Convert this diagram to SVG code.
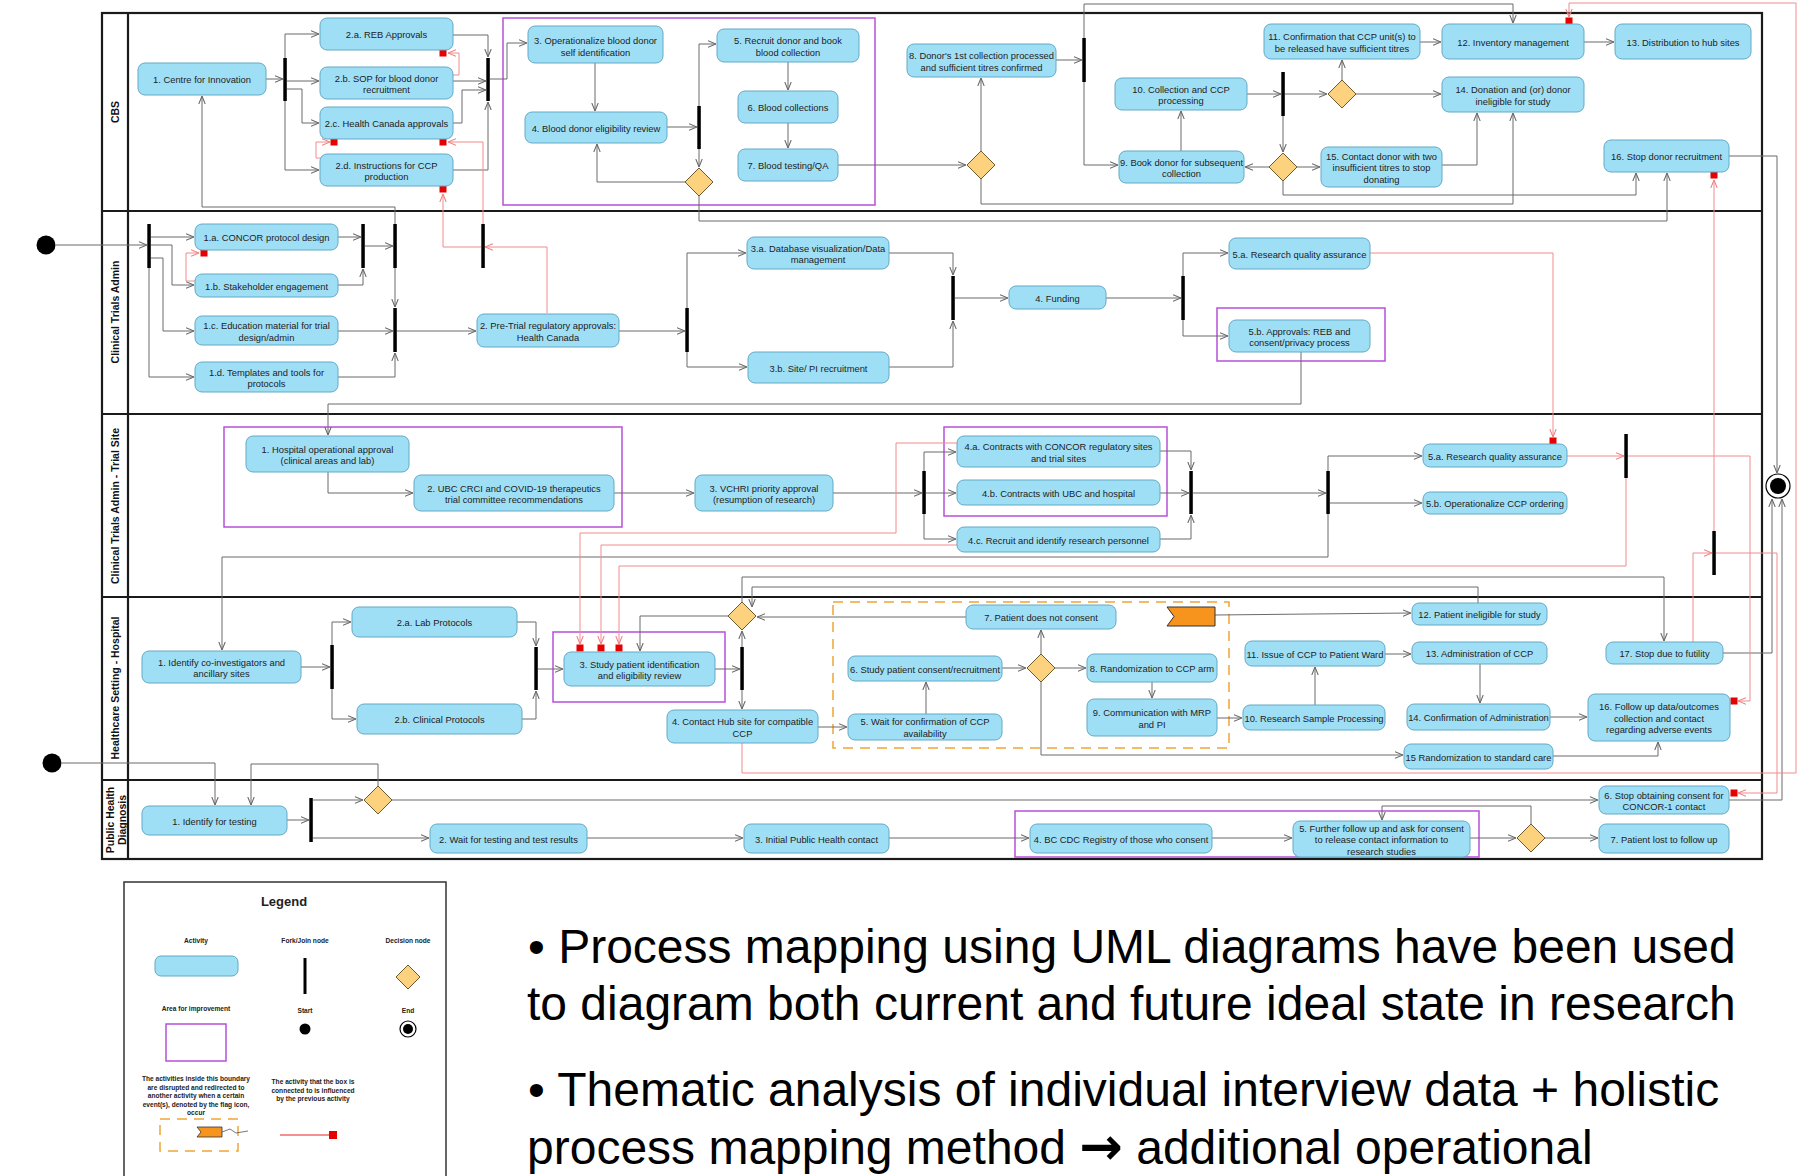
<svg xmlns="http://www.w3.org/2000/svg" width="1798" height="1176" viewBox="0 0 1798 1176">
<defs>
  <marker id="ag" viewBox="0 0 10 10" refX="10" refY="5" markerWidth="8" markerHeight="8" markerUnits="userSpaceOnUse" orient="auto">
    <path d="M0,1 L10,5 L0,9" fill="none" stroke="#666" stroke-width="1.3"/>
  </marker>
  <marker id="ar" viewBox="0 0 10 10" refX="10" refY="5" markerWidth="8" markerHeight="8" markerUnits="userSpaceOnUse" orient="auto">
    <path d="M0,1 L10,5 L0,9" fill="none" stroke="#ee7f7f" stroke-width="1.3"/>
  </marker>
</defs>
<style>
  .act { fill: #9fdff6; stroke: #62a9c6; stroke-width: 1; }
  .t { font-family: "Liberation Sans", Arial, sans-serif; font-size: 9.4px; fill: #222; text-anchor: middle; }
  .lane-t { font-family: "Liberation Sans", Arial, sans-serif; font-size: 10.5px; font-weight: bold; fill: #111; text-anchor: middle; }
  .bar { fill: #000; }
  .dia { fill: #fcd27e; stroke: #6e5a2e; stroke-width: 1; }
  .c { fill: none; stroke: #6b6b6b; stroke-width: 1; marker-end: url(#ag); }
  .r { fill: none; stroke: #f08c8c; stroke-width: 1; marker-end: url(#ar); }
  .sq { fill: #e60000; }
  .imp { fill: none; stroke: #b650d8; stroke-width: 1.5; }
  .dash { fill: none; stroke: #f0a437; stroke-width: 1.5; stroke-dasharray: 10 7; }
  .lane { stroke: #1a1a1a; stroke-width: 2.2; fill: none; }
  .lg { font-family: "Liberation Sans", Arial, sans-serif; font-size: 6.6px; font-weight: bold; fill: #222; text-anchor: middle; }
  .big { font-family: "Liberation Sans", Arial, sans-serif; font-size: 48px; fill: #000; }
</style>
<rect width="1798" height="1176" fill="#fff"/>

<!-- swimlane frame -->
<g id="lanes">
  <rect class="lane" x="102" y="13" width="1660" height="846"/>
  <line class="lane" x1="128" y1="13" x2="128" y2="859"/>
  <line class="lane" x1="102" y1="211" x2="1762" y2="211"/>
  <line class="lane" x1="102" y1="414" x2="1762" y2="414"/>
  <line class="lane" x1="102" y1="597" x2="1762" y2="597"/>
  <line class="lane" x1="102" y1="780" x2="1762" y2="780"/>
  <text class="lane-t" transform="rotate(-90 119 112)" x="119" y="112">CBS</text>
  <text class="lane-t" transform="rotate(-90 119 312)" x="119" y="312">Clinical Trials Admin</text>
  <text class="lane-t" transform="rotate(-90 119 506)" x="119" y="506">Clinical Trials Admin - Trial Site</text>
  <text class="lane-t" transform="rotate(-90 119 688)" x="119" y="688">Healthcare Setting - Hospital</text>
  <text class="lane-t" transform="rotate(-90 114 820)" x="114" y="820">Public Health</text>
  <text class="lane-t" transform="rotate(-90 126 820)" x="126" y="820">Diagnosis</text>
</g>

<!-- areas for improvement and interruptible region -->
<g id="regions">
  <rect class="imp" x="503" y="18" width="372" height="187"/>
  <rect class="imp" x="1217" y="308" width="168" height="53"/>
  <rect class="imp" x="224" y="427" width="398" height="100"/>
  <rect class="imp" x="944" y="427" width="223" height="89"/>
  <rect class="imp" x="553" y="632" width="172" height="70"/>
  <rect class="imp" x="1015" y="811" width="464" height="46"/>
  <rect class="dash" x="833" y="602" width="396" height="146"/>
</g>

<!-- connectors -->
<g id="connectors">
  <!-- CBS -->
  <path class="c" d="M266,79 H283"/>
  <path class="c" d="M285,58 V34 H319"/>
  <path class="c" d="M287,81 H319"/>
  <path class="c" d="M287,89 H302 V123 H319"/>
  <path class="c" d="M285,101 V170 H319"/>
  <path class="c" d="M453,35 H488 V57"/>
  <path class="c" d="M453,81 H486"/>
  <path class="c" d="M453,123 H462 V90 H486"/>
  <path class="c" d="M453,170 H488 V102"/>
  <path class="c" d="M490,79 H507 V43 H527"/>
  <path class="c" d="M595,63 V111"/>
  <path class="c" d="M667,127 H697"/>
  <path class="c" d="M699,106 V44 H716"/>
  <path class="c" d="M699,149 V167"/>
  <path class="c" d="M685,182 H597 V144"/>
  <path class="c" d="M699,196 V221 H1667 V173"/>
  <path class="c" d="M788,62 V90"/>
  <path class="c" d="M788,123 V148"/>
  <path class="c" d="M838,165 H966"/>
  <path class="c" d="M981,151 V78"/>
  <path class="c" d="M981,179 V204 H1513 V113"/>
  <path class="c" d="M1056,60 H1082"/>
  <path class="c" d="M1084,82 V165 H1118"/>
  <path class="c" d="M1084,38 V4 H1513 V23"/>
  <path class="c" d="M1181,151 V111"/>
  <path class="c" d="M1247,94 H1281"/>
  <path class="c" d="M1285,94 H1327"/>
  <path class="c" d="M1342,80 V60"/>
  <path class="c" d="M1356,94 H1441"/>
  <path class="c" d="M1283,116 V152"/>
  <path class="c" d="M1269,167 H1245"/>
  <path class="c" d="M1297,167 H1320"/>
  <path class="c" d="M1283,181 V195 H1636 V173"/>
  <path class="c" d="M1442,165 H1477 V113"/>
  <path class="c" d="M1420,42 H1441"/>
  <path class="c" d="M1584,42 H1614"/>
  <path class="c" d="M1729,156 H1777 V473"/>
  <!-- Clinical Trials Admin -->
  <path class="c" d="M56,245 H147"/>
  <path class="c" d="M151,237 H194"/>
  <path class="c" d="M151,245 H172 V285 H194"/>
  <path class="c" d="M151,258 H163 V331 H194"/>
  <path class="c" d="M149,268 V377 H194"/>
  <path class="c" d="M338,237 H361"/>
  <path class="c" d="M338,285 H363 V269"/>
  <path class="c" d="M365,246 H393"/>
  <path class="c" d="M395,224 V207 H202 V96"/>
  <path class="c" d="M395,268 V307"/>
  <path class="c" d="M338,331 H393"/>
  <path class="c" d="M338,377 H395 V353"/>
  <path class="c" d="M397,331 H476"/>
  <path class="c" d="M619,331 H685"/>
  <path class="c" d="M687,308 V253 H746"/>
  <path class="c" d="M687,352 V367 H747"/>
  <path class="c" d="M889,253 H953 V275"/>
  <path class="c" d="M889,367 H953 V321"/>
  <path class="c" d="M955,298 H1008"/>
  <path class="c" d="M1106,298 H1181"/>
  <path class="c" d="M1183,276 V253 H1228"/>
  <path class="c" d="M1183,320 V336 H1228"/>
  <path class="c" d="M1301,352 V404 H328 V435"/>
  <!-- Trial Site -->
  <path class="c" d="M328,472 V493 H413"/>
  <path class="c" d="M614,493 H694"/>
  <path class="c" d="M833,493 H922"/>
  <path class="c" d="M924,471 V452 H956"/>
  <path class="c" d="M926,493 H956"/>
  <path class="c" d="M924,514 V539 H956"/>
  <path class="c" d="M1160,451 H1191 V470"/>
  <path class="c" d="M1160,493 H1189"/>
  <path class="c" d="M1160,539 H1191 V515"/>
  <path class="c" d="M1193,493 H1326"/>
  <path class="c" d="M1328,471 V456 H1422"/>
  <path class="c" d="M1330,503 H1422"/>
  <path class="c" d="M1328,514 V557 H222 V650"/>
  <!-- Hospital -->
  <path class="c" d="M301,667 H330"/>
  <path class="c" d="M332,645 V622 H351"/>
  <path class="c" d="M332,689 V719 H356"/>
  <path class="c" d="M517,622 H536 V646"/>
  <path class="c" d="M522,719 H536 V691"/>
  <path class="c" d="M538,669 H563"/>
  <path class="c" d="M715,669 H740"/>
  <path class="c" d="M742,647 V631"/>
  <path class="c" d="M742,690 V709"/>
  <path class="c" d="M728,616 H640 V651"/>
  <path class="c" d="M742,602 V577 H1664 V641"/>
  <path class="c" d="M1478,603 V587 H752 V607"/>
  <path class="c" d="M966,617 H757"/>
  <path class="c" d="M818,727 H847"/>
  <path class="c" d="M926,714 V682"/>
  <path class="c" d="M1002,668 H1026"/>
  <path class="c" d="M1041,654 V630"/>
  <path class="c" d="M1055,668 H1086"/>
  <path class="c" d="M1041,682 V755 H1403"/>
  <path class="c" d="M1152,682 V698"/>
  <path class="c" d="M1217,718 H1242"/>
  <path class="c" d="M1315,705 V667"/>
  <path class="c" d="M1385,654 H1411"/>
  <path class="c" d="M1480,664 V703"/>
  <path class="c" d="M1550,717 H1587"/>
  <path class="c" d="M1553,756 H1658 V742"/>
  <path class="c" d="M1215,615 L1411,613"/>
  <path class="c" d="M1723,653 H1772 V499"/>
  <!-- Public Health -->
  <path class="c" d="M62,763 H215 V805"/>
  <path class="c" d="M378,786 V764 H251 V805"/>
  <path class="c" d="M287,820 H309"/>
  <path class="c" d="M313,800 H363"/>
  <path class="c" d="M313,838 H429"/>
  <path class="c" d="M392,800 H1598"/>
  <path class="c" d="M587,838 H743"/>
  <path class="c" d="M889,838 H1029"/>
  <path class="c" d="M1212,838 H1292"/>
  <path class="c" d="M1470,838 H1516"/>
  <path class="c" d="M1545,838 H1598"/>
  <path class="c" d="M1531,824 V806 H1382 V820"/>
  <path class="c" d="M1729,800 H1782 V499"/>
  <!-- influence links -->
  <path class="r" d="M453,75 H459 V53 H448"/>
  <path class="r" d="M322,158 H316 V142 H330"/>
  <path class="r" d="M547,313 V247 H485"/>
  <path class="r" d="M481,247 H443 V194"/>
  <path class="r" d="M483,224 V142 H448"/>
  <path class="r" d="M196,281 H186 V253 H199"/>
  <path class="r" d="M957,443 H896 V533 H580 V644"/>
  <path class="r" d="M957,545 H601 V644"/>
  <path class="r" d="M1626,478 V566 H619 V644"/>
  <path class="r" d="M1567,456 H1624"/>
  <path class="r" d="M1628,456 H1750 V701 H1738"/>
  <path class="r" d="M1714,531 V180"/>
  <path class="r" d="M1693,642 V553 H1712"/>
  <path class="r" d="M1716,553 H1777 V793 H1738"/>
  <path class="r" d="M742,743 V773 H1796 V3 H1569 V17"/>
  <path class="r" d="M1370,253 H1553 V437"/>
</g>

<!-- influence markers -->
<g id="markers">
  <rect class="sq" x="439.5" y="49.5" width="7" height="7"/>
  <rect class="sq" x="330.5" y="138.5" width="7" height="7"/>
  <rect class="sq" x="439.5" y="138.5" width="7" height="7"/>
  <rect class="sq" x="439.5" y="185.5" width="7" height="7"/>
  <rect class="sq" x="200.5" y="249.5" width="7" height="7"/>
  <rect class="sq" x="576.5" y="644.5" width="7" height="7"/>
  <rect class="sq" x="597.5" y="644.5" width="7" height="7"/>
  <rect class="sq" x="615.5" y="644.5" width="7" height="7"/>
  <rect class="sq" x="1549.5" y="437.5" width="7" height="7"/>
  <rect class="sq" x="1565.5" y="17.5" width="7" height="7"/>
  <rect class="sq" x="1710.5" y="171.5" width="7" height="7"/>
  <rect class="sq" x="1730.5" y="697.5" width="7" height="7"/>
  <rect class="sq" x="1730.5" y="789.5" width="7" height="7"/>
</g>

<!-- fork / join bars -->
<g id="bars">
  <rect class="bar" x="283.3" y="58" width="3.5" height="43"/>
  <rect class="bar" x="486.3" y="58" width="3.5" height="43"/>
  <rect class="bar" x="697.3" y="106" width="3.5" height="43"/>
  <rect class="bar" x="1082.3" y="38" width="3.5" height="44"/>
  <rect class="bar" x="1281.3" y="72" width="3.5" height="44"/>
  <rect class="bar" x="147.3" y="224" width="3.5" height="44"/>
  <rect class="bar" x="361.3" y="224" width="3.5" height="44"/>
  <rect class="bar" x="393.3" y="224" width="3.5" height="44"/>
  <rect class="bar" x="481.3" y="224" width="3.5" height="44"/>
  <rect class="bar" x="393.3" y="308" width="3.5" height="44"/>
  <rect class="bar" x="685.3" y="308" width="3.5" height="44"/>
  <rect class="bar" x="951.3" y="276" width="3.5" height="44"/>
  <rect class="bar" x="1181.3" y="276" width="3.5" height="44"/>
  <rect class="bar" x="922.3" y="471" width="3.5" height="43"/>
  <rect class="bar" x="1189.3" y="471" width="3.5" height="43"/>
  <rect class="bar" x="1326.3" y="471" width="3.5" height="43"/>
  <rect class="bar" x="1624.3" y="434" width="3.5" height="44"/>
  <rect class="bar" x="1712.3" y="531" width="3.5" height="44"/>
  <rect class="bar" x="330.3" y="645" width="3.5" height="44"/>
  <rect class="bar" x="534.3" y="647" width="3.5" height="43"/>
  <rect class="bar" x="740.3" y="647" width="3.5" height="43"/>
  <rect class="bar" x="309.3" y="798" width="3.5" height="44"/>
</g>

<!-- decision nodes -->
<g id="decisions">
  <path id="d-cbs-1" class="dia" d="M699,168 L713,182 L699,196 L685,182 Z"/>
  <path id="d-cbs-2" class="dia" d="M981,151 L995,165 L981,179 L967,165 Z"/>
  <path id="d-cbs-3" class="dia" d="M1342,80 L1356,94 L1342,108 L1328,94 Z"/>
  <path id="d-cbs-4" class="dia" d="M1283,153 L1297,167 L1283,181 L1269,167 Z"/>
  <path id="d-hs-1" class="dia" d="M742,602 L756,616 L742,630 L728,616 Z"/>
  <path id="d-hs-2" class="dia" d="M1041,654 L1055,668 L1041,682 L1027,668 Z"/>
  <path id="d-ph-1" class="dia" d="M378,786 L392,800 L378,814 L364,800 Z"/>
  <path id="d-ph-2" class="dia" d="M1531,824 L1545,838 L1531,852 L1517,838 Z"/>
</g>

<!-- start / end -->
<g id="start-1"><circle cx="46" cy="245" r="9.5" fill="#000"/></g>
<g id="start-2"><circle cx="52" cy="763" r="9.5" fill="#000"/></g>
<g id="end"><circle cx="1778" cy="486" r="12" fill="#fff" stroke="#000" stroke-width="1.2"/><circle cx="1778" cy="486" r="8" fill="#000"/></g>

<!-- flag event -->
<g id="flag"><path d="M1167,607 H1215 V626 H1167 L1174,616.5 Z" fill="#f7941d" stroke="#333" stroke-width="1"/></g>

<!-- CBS activities -->
<g id="cbs-1"><rect class="act" x="138" y="63" width="128" height="32" rx="7"/><text class="t" x="202" y="83.2">1. Centre for Innovation</text></g>
<g id="cbs-2a"><rect class="act" x="320" y="18" width="133" height="32" rx="7"/><text class="t" x="386.5" y="38.2">2.a. REB Approvals</text></g>
<g id="cbs-2b"><rect class="act" x="320" y="67" width="133" height="32" rx="7"/><text class="t" x="386.5" y="81.5">2.b. SOP for blood donor</text><text class="t" x="386.5" y="93.2">recruitment</text></g>
<g id="cbs-2c"><rect class="act" x="320" y="107" width="133" height="32" rx="7"/><text class="t" x="386.5" y="127.2">2.c. Health Canada approvals</text></g>
<g id="cbs-2d"><rect class="act" x="320" y="154" width="133" height="32" rx="7"/><text class="t" x="386.5" y="168.5">2.d. Instructions for CCP</text><text class="t" x="386.5" y="180.2">production</text></g>
<g id="cbs-3"><rect class="act" x="528" y="26" width="135" height="37" rx="7"/><text class="t" x="595.5" y="44">3. Operationalize blood donor</text><text class="t" x="595.5" y="55.6">self identification</text></g>
<g id="cbs-4"><rect class="act" x="525" y="112" width="142" height="31" rx="7"/><text class="t" x="596" y="131.7">4. Blood donor eligibility review</text></g>
<g id="cbs-5"><rect class="act" x="717" y="29" width="142" height="33" rx="7"/><text class="t" x="788" y="44">5. Recruit donor and book</text><text class="t" x="788" y="55.7">blood collection</text></g>
<g id="cbs-6"><rect class="act" x="738" y="91" width="100" height="32" rx="7"/><text class="t" x="788" y="111.2">6. Blood collections</text></g>
<g id="cbs-7"><rect class="act" x="738" y="149" width="100" height="32" rx="7"/><text class="t" x="788" y="169.2">7. Blood testing/QA</text></g>
<g id="cbs-8"><rect class="act" x="907" y="44" width="149" height="33" rx="7"/><text class="t" x="981.5" y="59">8. Donor's 1st collection processed</text><text class="t" x="981.5" y="70.7">and sufficient titres confirmed</text></g>
<g id="cbs-9"><rect class="act" x="1119" y="151" width="125" height="32" rx="7"/><text class="t" x="1181.5" y="165.5">9. Book donor for subsequent</text><text class="t" x="1181.5" y="177.2">collection</text></g>
<g id="cbs-10"><rect class="act" x="1115" y="78" width="132" height="32" rx="7"/><text class="t" x="1181" y="92.5">10. Collection and CCP</text><text class="t" x="1181" y="104.2">processing</text></g>
<g id="cbs-11"><rect class="act" x="1264" y="24" width="156" height="35" rx="7"/><text class="t" x="1342" y="40">11. Confirmation that CCP unit(s) to</text><text class="t" x="1342" y="51.7">be released have sufficient titres</text></g>
<g id="cbs-12"><rect class="act" x="1442" y="24" width="142" height="35" rx="7"/><text class="t" x="1513" y="45.7">12. Inventory management</text></g>
<g id="cbs-13"><rect class="act" x="1615" y="24" width="136" height="35" rx="7"/><text class="t" x="1683" y="45.7">13. Distribution to hub sites</text></g>
<g id="cbs-14"><rect class="act" x="1442" y="77" width="142" height="35" rx="7"/><text class="t" x="1513" y="93">14. Donation and (or) donor</text><text class="t" x="1513" y="104.7">ineligible for study</text></g>
<g id="cbs-15"><rect class="act" x="1321" y="147" width="121" height="40" rx="7"/><text class="t" x="1381.5" y="159.5">15. Contact donor with two</text><text class="t" x="1381.5" y="171.2">insufficient titres to stop</text><text class="t" x="1381.5" y="182.9">donating</text></g>
<g id="cbs-16"><rect class="act" x="1604" y="140" width="125" height="32" rx="7"/><text class="t" x="1666.5" y="160.2">16. Stop donor recruitment</text></g>

<!-- Clinical Trials Admin activities -->
<g id="cta-1a"><rect class="act" x="195" y="224" width="143" height="26" rx="7"/><text class="t" x="266.5" y="241.2">1.a. CONCOR protocol design</text></g>
<g id="cta-1b"><rect class="act" x="195" y="274" width="143" height="23" rx="7"/><text class="t" x="266.5" y="289.7">1.b. Stakeholder engagement</text></g>
<g id="cta-1c"><rect class="act" x="195" y="316" width="143" height="29" rx="7"/><text class="t" x="266.5" y="329">1.c. Education material for trial</text><text class="t" x="266.5" y="340.7">design/admin</text></g>
<g id="cta-1d"><rect class="act" x="195" y="362" width="143" height="30" rx="7"/><text class="t" x="266.5" y="375.5">1.d. Templates and tools for</text><text class="t" x="266.5" y="387.2">protocols</text></g>
<g id="cta-2"><rect class="act" x="477" y="314" width="142" height="33" rx="7"/><text class="t" x="548" y="329">2. Pre-Trial regulatory approvals:</text><text class="t" x="548" y="340.7">Health Canada</text></g>
<g id="cta-3a"><rect class="act" x="747" y="237" width="142" height="32" rx="7"/><text class="t" x="818" y="251.5">3.a. Database visualization/Data</text><text class="t" x="818" y="263.2">management</text></g>
<g id="cta-3b"><rect class="act" x="748" y="352" width="141" height="31" rx="7"/><text class="t" x="818.5" y="371.7">3.b. Site/ PI recruitment</text></g>
<g id="cta-4"><rect class="act" x="1009" y="286" width="97" height="23" rx="7"/><text class="t" x="1057.5" y="301.7">4. Funding</text></g>
<g id="cta-5a"><rect class="act" x="1229" y="238" width="141" height="31" rx="7"/><text class="t" x="1299.5" y="257.7">5.a. Research quality assurance</text></g>
<g id="cta-5b"><rect class="act" x="1229" y="320" width="141" height="32" rx="7"/><text class="t" x="1299.5" y="334.5">5.b. Approvals: REB and</text><text class="t" x="1299.5" y="346.2">consent/privacy process</text></g>

<!-- Trial Site activities -->
<g id="ts-1"><rect class="act" x="246" y="436" width="163" height="36" rx="7"/><text class="t" x="327.5" y="452.5">1. Hospital operational approval</text><text class="t" x="327.5" y="464.2">(clinical areas and lab)</text></g>
<g id="ts-2"><rect class="act" x="414" y="475" width="200" height="36" rx="7"/><text class="t" x="514" y="491.5">2. UBC CRCI and COVID-19 therapeutics</text><text class="t" x="514" y="503.2">trial committee recommendations</text></g>
<g id="ts-3"><rect class="act" x="695" y="475" width="138" height="36" rx="7"/><text class="t" x="764" y="491.5">3. VCHRI priority approval</text><text class="t" x="764" y="503.2">(resumption of research)</text></g>
<g id="ts-4a"><rect class="act" x="957" y="436" width="203" height="31" rx="7"/><text class="t" x="1058.5" y="450">4.a. Contracts with CONCOR regulatory sites</text><text class="t" x="1058.5" y="461.7">and trial sites</text></g>
<g id="ts-4b"><rect class="act" x="957" y="480" width="203" height="25" rx="7"/><text class="t" x="1058.5" y="496.7">4.b. Contracts with UBC and hospital</text></g>
<g id="ts-4c"><rect class="act" x="957" y="527" width="203" height="25" rx="7"/><text class="t" x="1058.5" y="543.7">4.c. Recruit and identify research personnel</text></g>
<g id="ts-5a"><rect class="act" x="1423" y="444" width="144" height="23" rx="7"/><text class="t" x="1495" y="459.7">5.a. Research quality assurance</text></g>
<g id="ts-5b"><rect class="act" x="1423" y="492" width="144" height="22" rx="7"/><text class="t" x="1495" y="507.2">5.b. Operationalize CCP ordering</text></g>

<!-- Hospital activities -->
<g id="hs-1"><rect class="act" x="142" y="651" width="159" height="32" rx="7"/><text class="t" x="221.5" y="665.5">1. Identify co-investigators and</text><text class="t" x="221.5" y="677.2">ancillary sites</text></g>
<g id="hs-2a"><rect class="act" x="352" y="607" width="165" height="30" rx="7"/><text class="t" x="434.5" y="626.2">2.a. Lab Protocols</text></g>
<g id="hs-2b"><rect class="act" x="357" y="704" width="165" height="30" rx="7"/><text class="t" x="439.5" y="723.2">2.b. Clinical Protocols</text></g>
<g id="hs-3"><rect class="act" x="564" y="652" width="151" height="34" rx="7"/><text class="t" x="639.5" y="667.5">3. Study patient identification</text><text class="t" x="639.5" y="679.2">and eligibility review</text></g>
<g id="hs-4"><rect class="act" x="667" y="710" width="151" height="33" rx="7"/><text class="t" x="742.5" y="725">4. Contact Hub site for compatible</text><text class="t" x="742.5" y="736.7">CCP</text></g>
<g id="hs-5"><rect class="act" x="848" y="714" width="154" height="26" rx="7"/><text class="t" x="925" y="725">5. Wait for confirmation of CCP</text><text class="t" x="925" y="736.6">availability</text></g>
<g id="hs-6"><rect class="act" x="848" y="656" width="154" height="25" rx="7"/><text class="t" x="925" y="672.7">6. Study patient consent/recruitment</text></g>
<g id="hs-7"><rect class="act" x="966" y="605" width="150" height="24" rx="7"/><text class="t" x="1041" y="621.2">7. Patient does not consent</text></g>
<g id="hs-8"><rect class="act" x="1087" y="654" width="130" height="28" rx="7"/><text class="t" x="1152" y="672.2">8. Randomization to CCP arm</text></g>
<g id="hs-9"><rect class="act" x="1087" y="699" width="130" height="37" rx="7"/><text class="t" x="1152" y="716">9. Communication with MRP</text><text class="t" x="1152" y="727.7">and PI</text></g>
<g id="hs-10"><rect class="act" x="1243" y="705" width="142" height="25" rx="7"/><text class="t" x="1314" y="721.7">10. Research Sample Processing</text></g>
<g id="hs-11"><rect class="act" x="1245" y="641" width="140" height="25" rx="7"/><text class="t" x="1315" y="657.7">11. Issue of CCP to Patient Ward</text></g>
<g id="hs-12"><rect class="act" x="1412" y="603" width="135" height="22" rx="7"/><text class="t" x="1479.5" y="618.2">12. Patient ineligible for study</text></g>
<g id="hs-13"><rect class="act" x="1412" y="642" width="135" height="22" rx="7"/><text class="t" x="1479.5" y="657.2">13. Administration of CCP</text></g>
<g id="hs-14"><rect class="act" x="1407" y="704" width="143" height="26" rx="7"/><text class="t" x="1478.5" y="721.2">14. Confirmation of Administration</text></g>
<g id="hs-15"><rect class="act" x="1404" y="744" width="149" height="25" rx="7"/><text class="t" x="1478.5" y="760.7">15 Randomization to standard care</text></g>
<g id="hs-16"><rect class="act" x="1588" y="694" width="142" height="47" rx="7"/><text class="t" x="1659" y="710">16. Follow up data/outcomes</text><text class="t" x="1659" y="721.7">collection and contact</text><text class="t" x="1659" y="733.4">regarding adverse events</text></g>
<g id="hs-17"><rect class="act" x="1606" y="642" width="117" height="22" rx="7"/><text class="t" x="1664.5" y="657.2">17. Stop due to futility</text></g>

<!-- Public Health activities -->
<g id="ph-1"><rect class="act" x="142" y="806" width="145" height="29" rx="7"/><text class="t" x="214.5" y="824.7">1. Identify for testing</text></g>
<g id="ph-2"><rect class="act" x="430" y="824" width="157" height="29" rx="7"/><text class="t" x="508.5" y="842.7">2. Wait for testing and test results</text></g>
<g id="ph-3"><rect class="act" x="744" y="824" width="145" height="29" rx="7"/><text class="t" x="816.5" y="842.7">3. Initial Public Health contact</text></g>
<g id="ph-4"><rect class="act" x="1030" y="824" width="182" height="29" rx="7"/><text class="t" x="1121" y="842.7">4. BC CDC Registry of those who consent</text></g>
<g id="ph-5"><rect class="act" x="1293" y="821" width="177" height="36" rx="7"/><text class="t" x="1381.5" y="831.5">5. Further follow up and ask for consent</text><text class="t" x="1381.5" y="843.2">to release contact information to</text><text class="t" x="1381.5" y="854.9">research studies</text></g>
<g id="ph-6"><rect class="act" x="1599" y="786" width="130" height="28" rx="7"/><text class="t" x="1664" y="798.5">6. Stop obtaining consent for</text><text class="t" x="1664" y="810.2">CONCOR-1 contact</text></g>
<g id="ph-7"><rect class="act" x="1599" y="824" width="130" height="29" rx="7"/><text class="t" x="1664" y="842.7">7. Patient lost to follow up</text></g>

<!-- legend -->
<g id="legend">
  <rect x="124" y="882" width="322" height="310" fill="#fff" stroke="#333" stroke-width="1.5"/>
  <text x="284" y="906" font-family="Liberation Sans, Arial, sans-serif" font-size="13" font-weight="bold" text-anchor="middle" fill="#222">Legend</text>
  <text class="lg" x="196" y="943">Activity</text>
  <rect class="act" x="155" y="956" width="83" height="20" rx="6"/>
  <text class="lg" x="305" y="943">Fork/Join node</text>
  <rect class="bar" x="303.5" y="958" width="3" height="36"/>
  <text class="lg" x="408" y="943">Decision node</text>
  <path class="dia" d="M408,965 L420,977 L408,989 L396,977 Z"/>
  <text class="lg" x="196" y="1011">Area for improvement</text>
  <rect class="imp" x="166" y="1024" width="60" height="37"/>
  <text class="lg" x="305" y="1013">Start</text>
  <circle cx="305" cy="1029" r="5.5" fill="#000"/>
  <text class="lg" x="408" y="1013">End</text>
  <circle cx="408" cy="1029" r="8" fill="#fff" stroke="#000" stroke-width="1.2"/>
  <circle cx="408" cy="1029" r="5" fill="#000"/>
  <text class="lg" x="196" y="1081">The activities inside this boundary</text>
  <text class="lg" x="196" y="1089.5">are disrupted and redirected to</text>
  <text class="lg" x="196" y="1098">another activity when a certain</text>
  <text class="lg" x="196" y="1106.5">event(s), denoted by the flag icon,</text>
  <text class="lg" x="196" y="1115">occur</text>
  <rect class="dash" x="160" y="1119" width="78" height="32" stroke-dasharray="7 5"/>
  <path d="M197,1127 H222 V1137 H197 L201,1132 Z" fill="#f7941d" stroke="#333" stroke-width="0.8"/>
  <path d="M222,1132 L230,1129 L236,1133 L248,1131" fill="none" stroke="#555" stroke-width="0.8"/>
  <text class="lg" x="313" y="1084">The activity that the box is</text>
  <text class="lg" x="313" y="1092.5">connected to is influenced</text>
  <text class="lg" x="313" y="1101">by the previous activity</text>
  <path d="M280,1135 H329" fill="none" stroke="#e22" stroke-width="1.2"/>
  <rect class="sq" x="329" y="1131" width="8" height="8"/>
</g>

<!-- summary text -->
<g id="notes">
  <text class="big" x="528" y="963">• Process mapping using UML diagrams have been used</text>
  <text class="big" x="527" y="1020">to diagram both current and future ideal state in research</text>
  <text class="big" x="528" y="1106">• Thematic analysis of individual interview data + holistic</text>
  <text class="big" x="527" y="1164">process mapping method <tspan font-family="DejaVu Sans, sans-serif" font-size="52" font-weight="bold">→</tspan> additional operational</text>
</g>
</svg>
